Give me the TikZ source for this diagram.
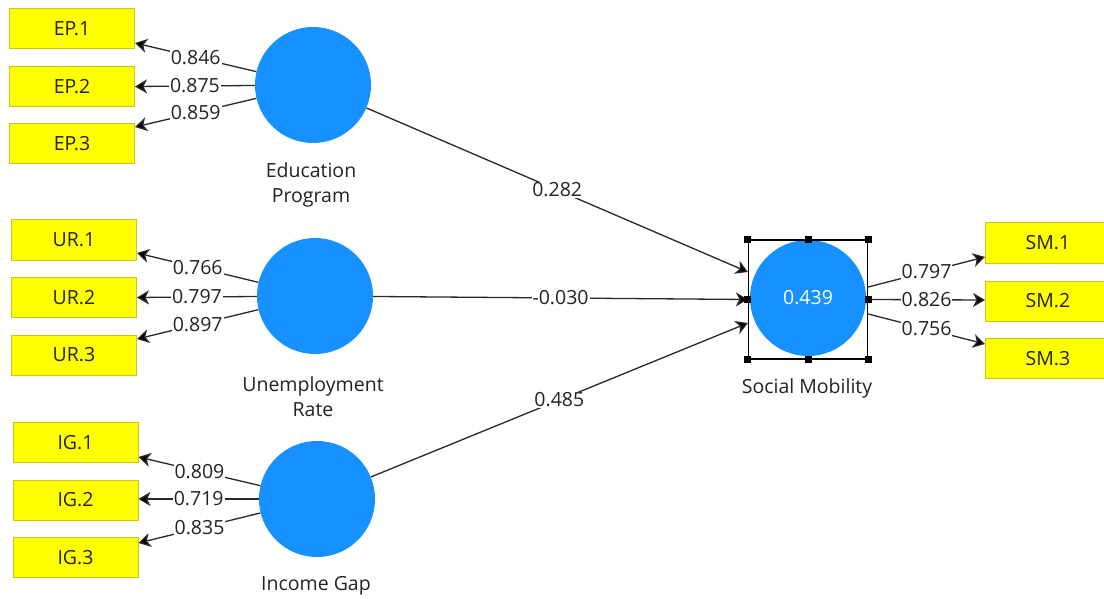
\documentclass[tikz,border=0pt]{standalone}
\usepackage{fontspec}
\setmainfont{Open Sans}
\usetikzlibrary{arrows.meta}
\definecolor{latentblue}{RGB}{22,145,255}
\definecolor{itemyellow}{RGB}{255,255,0}
\definecolor{itemborder}{RGB}{200,200,20}
\definecolor{pathgray}{RGB}{40,40,40}
\definecolor{txtgray}{RGB}{35,35,35}
\begin{document}
\begin{tikzpicture}[x=1pt,y=-1pt,
  every node/.style={font=\fontsize{19.5}{25}\selectfont, text=txtgray},
  latent/.style={circle, fill=latentblue, draw=none, minimum size=116pt, inner sep=0pt},
  indicator/.style={rectangle, fill=itemyellow, draw=itemborder, line width=1pt,
                    minimum width=125pt, minimum height=40pt, inner sep=0pt},
  conn/.style={draw=pathgray, line width=1.3pt,
               -{Stealth[length=12pt,width=14pt,inset=3.5pt,fill=black]}},
  coef/.style={fill=white, inner sep=1pt, pos=0.5},
  caption/.style={align=center},
  handle/.style={fill=black, draw=none, minimum size=7pt, inner sep=0pt, rectangle}
]
\useasboundingbox (0,0) rectangle (1104,599);
\clip (0,0) rectangle (1104,599);
\fill[white] (0,0) rectangle (1104,599);

% latent variables
\node[latent] (ep) at (313,85) {};
\node[latent] (ur) at (315,296) {};
\node[latent] (ig) at (317,499) {};
\node[latent, text=white] (sm) at (808,298) {0.439};

\node[caption] (epl) at (311,185) {Education\\Program};
\node[caption] (url) at (313,397) {Unemployment\\Rate};
\node[caption] (igl) at (316,586) {Income Gap};
\node[caption] (sml) at (807,388) {Social Mobility};

% indicators
\node[indicator] (ep1) at (72,28.5) {EP.1};
\node[indicator] (ep2) at (72,86.5) {EP.2};
\node[indicator] (ep3) at (72,143.5) {EP.3};
\node[indicator] (ur1) at (74,240) {UR.1};
\node[indicator] (ur2) at (74,297.5) {UR.2};
\node[indicator] (ur3) at (74,355) {UR.3};
\node[indicator] (ig1) at (75.5,442.5) {IG.1};
\node[indicator] (ig2) at (75.5,500) {IG.2};
\node[indicator] (ig3) at (75.5,557.5) {IG.3};
\node[indicator] (sm1) at (1048,243) {SM.1};
\node[indicator] (sm2) at (1048,301) {SM.2};
\node[indicator] (sm3) at (1048,358.5) {SM.3};

% selection frame around the endogenous construct
\node[draw=black, line width=1.2pt, rectangle, minimum width=119pt, minimum height=119pt,
      inner sep=0pt] (sel) at (808,299.5) {};

% outer loadings
\draw[conn] (ep) -- ([yshift=-14.5pt]ep1.east) node[coef] {0.846};
\draw[conn] (ep) -- ([yshift=0pt]ep2.east) node[coef] {0.875};
\draw[conn] (ep) -- ([yshift=16.5pt]ep3.east) node[coef] {0.859};
\draw[conn] (ur) -- ([yshift=-13pt]ur1.east) node[coef] {0.766};
\draw[conn] (ur) -- ([yshift=0pt]ur2.east) node[coef] {0.797};
\draw[conn] (ur) -- ([yshift=16pt]ur3.east) node[coef] {0.897};
\draw[conn] (ig) -- ([yshift=-14.5pt]ig1.east) node[coef] {0.809};
\draw[conn] (ig) -- ([yshift=1pt]ig2.east) node[coef] {0.719};
\draw[conn] (ig) -- ([yshift=14.5pt]ig3.east) node[coef] {0.835};
\draw[conn] ([yshift=12.5pt]sel.east) -- ([yshift=-14pt]sm1.west) node[coef] {0.797};
\draw[conn] (sel.east) -- ([yshift=1pt]sm2.west) node[coef] {0.826};
\draw[conn] ([yshift=-14.5pt]sel.east) -- ([yshift=14.5pt]sm3.west) node[coef] {0.756};

% path coefficients
\draw[conn] (ep) -- ([yshift=27.5pt]sel.west) node[coef] {0.282};
\draw[conn] (ur) -- (sel.west) node[coef] {-0.030};
\draw[conn] (ig) -- ([yshift=-23.5pt]sel.west) node[coef] {0.485};

% resize handles on top of the frame and arrow tips
\foreach \a in {north west,north,north east,west,east,south west,south,south east}
  \node[handle] (h-\a) at (sel.\a) {};
\end{tikzpicture}
\end{document}
